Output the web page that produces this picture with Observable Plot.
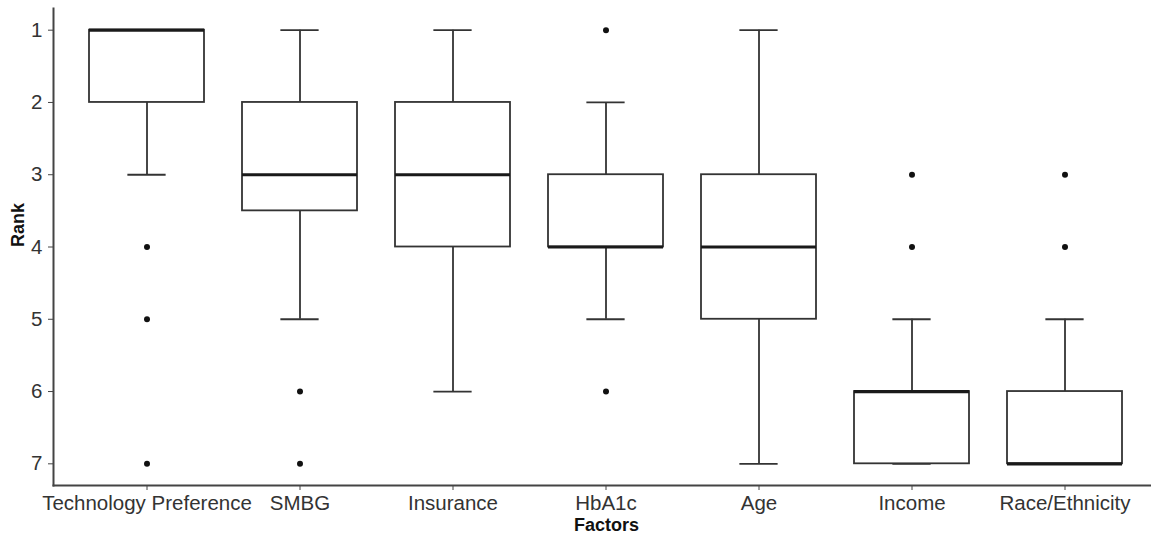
<!DOCTYPE html>
<html>
<head>
<meta charset="utf-8">
<script src="https://cdn.jsdelivr.net/npm/d3@7"></script>
<script src="https://cdn.jsdelivr.net/npm/@observablehq/plot@0.6"></script>
<style>
  html, body { margin: 0; padding: 0; background: #fff; }
  #chart svg { display: block; }
</style>
</head>
<body>
<div id="chart"></div>
<script>
const categories = ["Technology Preference", "SMBG", "Insurance", "HbA1c", "Age", "Income", "Race/Ethnicity"];
const whiskerTop = [1, 1, 1, 2, 1, 5, 5];
const q1 = [1, 2, 2, 3, 3, 6, 6];
const median = [1, 3, 3, 4, 4, 6, 7];
const q3 = [2, 3.5, 4, 4, 5, 7, 7];
const whiskerBottom = [3, 5, 6, 5, 7, 7, 7];
const outlierCategory = ["Technology Preference", "Technology Preference", "Technology Preference", "SMBG", "SMBG", "HbA1c", "HbA1c", "Income", "Income", "Race/Ethnicity", "Race/Ethnicity"];
const outlierRank = [4, 5, 7, 6, 7, 1, 6, 3, 4, 3, 4];
const rankTicks = [1, 2, 3, 4, 5, 6, 7];

const boxes = categories.map((c, i) => ({cat: c, lo: whiskerTop[i], q1: q1[i], med: median[i], q3: q3[i], hi: whiskerBottom[i]}));
const outliers = outlierCategory.map((c, i) => ({cat: c, value: outlierRank[i]}));

const W = 1151, H = 537;
const mL = 53, mT = 8, mB = 52;
const xRange = [mL, 1158];
const step = (xRange[1] - xRange[0]) / 7.2;
const capInset = step * 0.25;
const lineColor = "#333";
const font = "'Liberation Sans', Arial, sans-serif";

const chart = Plot.plot({
  width: W,
  height: H,
  marginLeft: mL,
  marginRight: 0,
  marginTop: mT,
  marginBottom: mB,
  style: {fontFamily: font, color: "#333", background: "#fff"},
  x: {type: "band", domain: categories, range: xRange, paddingInner: 0.25, paddingOuter: 0.225},
  y: {domain: [0.7, 7.3], reverse: true},
  marks: [
    Plot.ruleX(boxes, {x: "cat", y1: "lo", y2: "q1", stroke: lineColor, strokeWidth: 1.8}),
    Plot.ruleX(boxes, {x: "cat", y1: "q3", y2: "hi", stroke: lineColor, strokeWidth: 1.8}),
    Plot.tickY(boxes, {x: "cat", y: "lo", stroke: lineColor, strokeWidth: 1.8, insetLeft: capInset, insetRight: capInset}),
    Plot.tickY(boxes, {x: "cat", y: "hi", stroke: lineColor, strokeWidth: 1.8, insetLeft: capInset, insetRight: capInset}),
    Plot.barY(boxes, {x: "cat", y1: "q1", y2: "q3", fill: "white", stroke: lineColor, strokeWidth: 1.8}),
    Plot.tickY(boxes, {x: "cat", y: "med", stroke: "#1a1a1a", strokeWidth: 3.2}),
    Plot.dot(outliers, {x: "cat", y: "value", r: 3, fill: "#111", stroke: "none"}),
    Plot.frame({anchor: "left", stroke: "#444", strokeWidth: 2}),
    Plot.frame({anchor: "bottom", stroke: "#444", strokeWidth: 2}),
    Plot.axisY({ticks: rankTicks, tickFormat: d => d, tickSize: 5, tickPadding: 6, fontSize: 20.5, label: null, stroke: "#444"}),
    Plot.axisX({tickSize: 5, tickPadding: 5, fontSize: 20.5, label: null, stroke: "#444"}),
    Plot.text(["Factors"], {text: d => d, frameAnchor: "bottom", lineAnchor: "middle", dy: 40, dx: 4, fontSize: 18, fontWeight: "bold", fill: "#111"}),
    Plot.text(["Rank"], {text: d => d, frameAnchor: "left", lineAnchor: "middle", rotate: -90, dx: -35, fontSize: 18, fontWeight: "bold", fill: "#111"})
  ]
});
document.getElementById("chart").appendChild(chart);
</script>
</body>
</html>
